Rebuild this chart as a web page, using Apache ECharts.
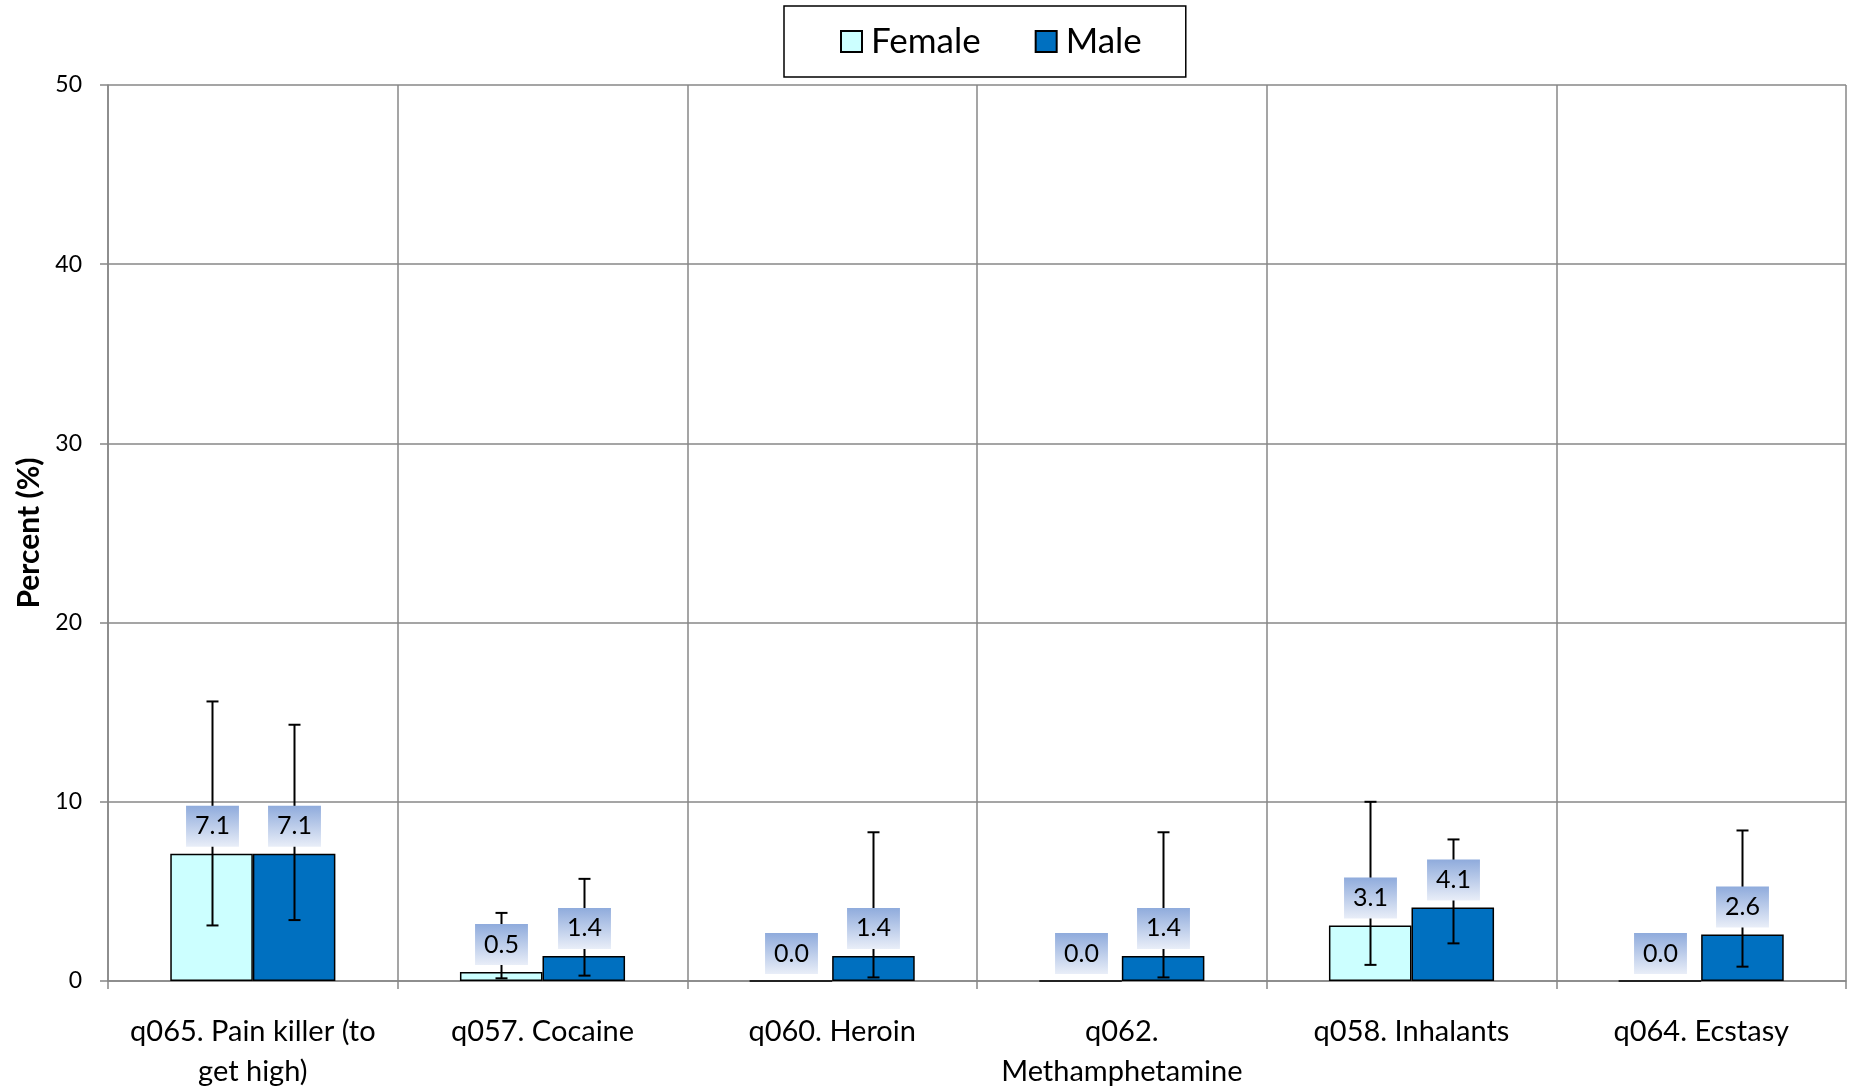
<!DOCTYPE html>
<html>
<head>
<meta charset="utf-8">
<script src="https://cdn.jsdelivr.net/npm/echarts@6/dist/echarts.min.js"></script>
<style>
html,body{margin:0;padding:0;background:#fff;}
#chart{width:1851px;height:1089px;}
</style>
</head>
<body>
<div id="chart"></div>
<script>
const categories = [
  "q065. Pain killer (to\nget high)",
  "q057. Cocaine",
  "q060. Heroin",
  "q062.\nMethamphetamine",
  "q058. Inhalants",
  "q064. Ecstasy"
];
const femaleValues = [7.1, 0.5, 0.0, 0.0, 3.1, 0.0];
const maleValues   = [7.1, 1.4, 1.4, 1.4, 4.1, 2.6];
const femaleLow  = [3.1, 0.15, 0.0, 0.0, 0.9, 0.0];
const femaleHigh = [15.6, 3.8, 0.0, 0.0, 10.0, 0.0];
const maleLow  = [3.4, 0.3, 0.2, 0.2, 2.1, 0.8];
const maleHigh = [14.3, 5.7, 8.3, 8.3, 7.9, 8.4];
const yTicks = [0, 10, 20, 30, 40, 50];

const GAP = 0.43;
const chart = echarts.init(document.getElementById('chart'));

const labelBg = new echarts.graphic.LinearGradient(0, 0, 0, 1, [
  {offset: 0, color: '#8fabdc'},
  {offset: 1, color: '#e9eef8'}
]);

function makeErr(name, side, values, lows, highs) {
  return {
    type: 'custom',
    name: name + ' err',
    z: 5,
    silent: true,
    data: values.map((v, i) => [i, v, lows[i], highs[i]]),
    encode: {x: 0, y: 1},
    renderItem: function (params, api) {
      const i = api.value(0);
      const v = api.value(1);
      const band = api.size([1, 0])[0];
      const bw = band * (1 - GAP) / 2;
      const top = api.coord([i, v]);
      const x = Math.round(top[0] + side * bw / 2) + 0.5;
      const lo = api.coord([i, api.value(2)])[1];
      const hi = api.coord([i, api.value(3)])[1];
      const children = [];
      const ls = {stroke: '#000', lineWidth: 2};
      if (lo - hi > 0.5) {
        children.push({type: 'line', shape: {x1: x, y1: lo, x2: x, y2: hi}, style: ls, z2: 1});
        children.push({type: 'line', shape: {x1: x - 6, y1: hi, x2: x + 6, y2: hi}, style: ls, z2: 1});
        children.push({type: 'line', shape: {x1: x - 6, y1: lo, x2: x + 6, y2: lo}, style: ls, z2: 1});
      }
      children.push({
        type: 'text',
        z2: 10,
        x: x,
        y: top[1] - 7,
        style: {
          text: v.toFixed(1),
          fontSize: 25,
          lineHeight: 25,
          fontFamily: 'Lato',
          fill: '#000',
          align: 'center',
          verticalAlign: 'bottom',
          backgroundColor: labelBg,
          padding: [8, 9, 8, 9]
        }
      });
      return {type: 'group', children: children};
    }
  };
}

const option = {
  animation: false,
  backgroundColor: '#fff',
  textStyle: {fontFamily: 'Lato'},
  legend: {
    data: ['Female', 'Male'],
    left: 784,
    top: 6,
    padding: [18, 44, 18, 56],
    icon: 'rect',
    itemWidth: 21,
    itemHeight: 21,
    itemGap: 54,
    borderColor: '#000',
    borderWidth: 1.5,
    textStyle: {fontSize: 35, color: '#000', fontFamily: 'Lato', padding: [0, 0, 0, 4]}
  },
  grid: {left: 108, right: 5, top: 85, bottom: 108, containLabel: false, outerBoundsMode: 'none'},
  xAxis: {
    type: 'category',
    data: categories,
    axisLine: {show: true, lineStyle: {color: '#878787', width: 1.5}},
    axisTick: {show: true, length: 8, lineStyle: {color: '#878787', width: 1.5}},
    splitLine: {show: true, lineStyle: {color: '#878787', width: 1.5}},
    axisLabel: {fontSize: 29, color: '#000', fontFamily: 'Lato', margin: 31, lineHeight: 40, interval: 0}
  },
  yAxis: {
    type: 'value',
    min: yTicks[0],
    max: yTicks[yTicks.length - 1],
    interval: 10,
    name: 'Percent (%)',
    nameLocation: 'middle',
    nameGap: 64,
    nameTextStyle: {fontSize: 30, fontWeight: 'bold', color: '#000', fontFamily: 'Lato'},
    axisLine: {show: true, lineStyle: {color: '#878787', width: 1.5}},
    axisTick: {show: true, inside: false, length: 8, lineStyle: {color: '#878787', width: 1.5}},
    splitLine: {show: true, lineStyle: {color: '#878787', width: 1.5}},
    axisLabel: {fontSize: 23, color: '#000', fontFamily: 'Lato', margin: 26}
  },
  series: [
    {
      name: 'Female', type: 'bar', data: femaleValues,
      barGap: '0%', barCategoryGap: (GAP * 100) + '%', z: 2,
      itemStyle: {color: '#ccffff', borderColor: '#000', borderWidth: 1.5}
    },
    {
      name: 'Male', type: 'bar', data: maleValues,
      barGap: '0%', barCategoryGap: (GAP * 100) + '%', z: 2,
      itemStyle: {color: '#0070c0', borderColor: '#000', borderWidth: 1.5}
    },
    makeErr('Female', -1, femaleValues, femaleLow, femaleHigh),
    makeErr('Male', 1, maleValues, maleLow, maleHigh)
  ]
};
chart.setOption(option);
</script>
</body>
</html>
